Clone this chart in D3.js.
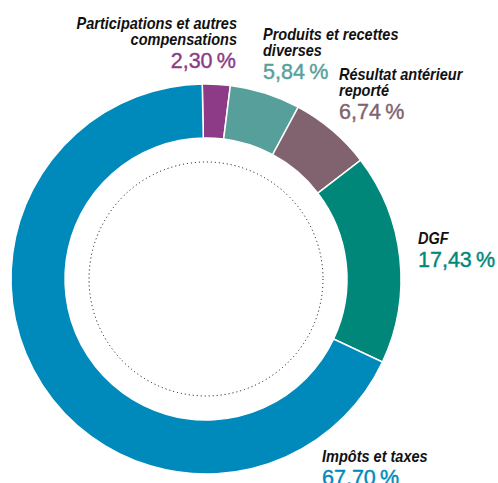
<!DOCTYPE html>
<html>
<head>
<meta charset="utf-8">
<script src="https://cdn.jsdelivr.net/npm/d3@7"></script>
<style>
  html, body { margin: 0; padding: 0; background: #fff; }
  .lbl { font-family: "Liberation Sans", Arial, sans-serif; font-weight: bold; font-style: italic; font-size: 16.5px; fill: #111; }
  .pct { font-family: "Liberation Sans", Arial, sans-serif; font-size: 21.5px; }
</style>
</head>
<body>
<div id="app"></div>
<script>
const WIDTH = 498;
const HEIGHT = 483;

// data
const categories = [
  'Participations et autres compensations',
  'Produits et recettes diverses',
  'Résultat antérieur reporté',
  'DGF',
  'Impôts et taxes'
];
const labelLines = [
  ['Participations et autres', 'compensations'],
  ['Produits et recettes', 'diverses'],
  ['Résultat antérieur', 'reporté'],
  ['DGF'],
  ['Impôts et taxes']
];
const shares = [2.30, 5.84, 6.74, 17.43, 67.70];
const colors = ['#8d3b87', '#579f9b', '#80636e', '#00877a', '#0089bb'];

// label anchors (x, first baseline, text-anchor)
const labelPos = [
  { x: 237, y: 29, anchor: 'end', px: 236 },
  { x: 263, y: 40, anchor: 'start', px: 263 },
  { x: 339, y: 80, anchor: 'start', px: 339 },
  { x: 418, y: 244, anchor: 'start', px: 418 },
  { x: 322, y: 462, anchor: 'start', px: 322 }
];

const cx = 206, cy = 279;
const outerR = 195, innerR = 141, dotR = 117;
const offset = -1.1 * Math.PI / 180;
const narrow = 0.88; // condensed look for the labels

const fr = d3.formatLocale({ decimal: ',', thousands: ' ', grouping: [3], currency: ['', '€'] });
const fmt = fr.format('.2f');

const svg = d3.select('#app')
  .append('svg')
    .attr('width', WIDTH)
    .attr('height', HEIGHT);

const data = categories.map((c, i) => ({ name: c, value: shares[i], i }));

const pie = d3.pie()
  .value(d => d.value)
  .sort(null)
  .startAngle(offset)
  .endAngle(offset + 2 * Math.PI);

const arc = d3.arc()
  .innerRadius(innerR)
  .outerRadius(outerR);

const g = svg.append('g')
  .attr('transform', `translate(${cx}, ${cy})`);

g.selectAll('.slice')
  .data(pie(data))
  .enter()
    .append('path')
    .attr('class', 'slice')
    .attr('d', arc)
    .attr('fill', d => colors[d.data.i])
    .attr('stroke', '#fff')
    .attr('stroke-width', 1.5);

g.append('circle')
  .attr('r', dotR)
  .attr('fill', 'none')
  .attr('stroke', '#000')
  .attr('stroke-width', 1)
  .attr('stroke-dasharray', '1 3');

// labels
data.forEach((d, i) => {
  const p = labelPos[i];
  const lines = labelLines[i];
  const t = svg.append('g')
    .attr('transform', `translate(${p.x}, 0) scale(${narrow}, 1)`)
    .append('text')
      .attr('class', 'lbl')
      .attr('text-anchor', p.anchor);
  lines.forEach((l, k) => {
    t.append('tspan')
      .attr('x', 0)
      .attr('y', p.y + k * 16.5)
      .text(l);
  });
  svg.append('text')
    .attr('class', 'pct')
    .attr('text-anchor', p.anchor)
    .attr('x', p.px)
    .attr('y', p.y + (lines.length - 1) * 16.5 + 22.5)
    .attr('fill', colors[i])
    .attr('stroke', colors[i])
    .attr('stroke-width', 0.4)
    .text(fmt(d.value) + '\u2009%');
});
</script>
</body>
</html>
